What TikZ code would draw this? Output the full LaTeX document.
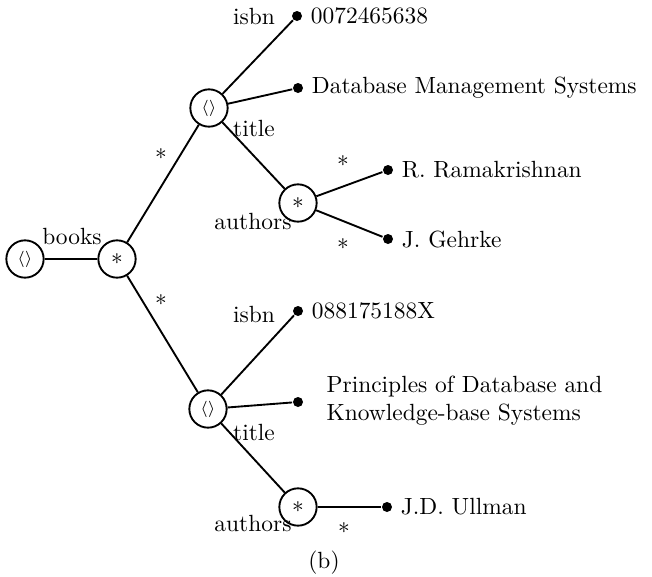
\documentclass[tikz,border=0pt]{standalone}
\begin{document}
\begin{tikzpicture}[thick, x=0.015cm, y=-0.015cm,
		tup/.style={circle,draw,minimum size=0.56cm,inner sep=0pt,font=\scriptsize},
		coll/.style={circle,draw,minimum size=0.56cm,inner sep=0pt},
		leaf/.style={circle,fill=black,minimum size=0.15cm,inner sep=0pt},
		val/.style={anchor=west,inner sep=2pt},
		lbl/.style={inner sep=0pt}
		]
	\useasboundingbox (0,0) rectangle (652,577);
	% inner nodes
	\node [tup] (root) at (25,259) {$\langle\rangle$};
	\node [coll] (books) at (117,259) {$*$};
	\node [tup] (b1) at (209,108) {$\langle\rangle$};
	\node [tup] (b2) at (208,409) {$\langle\rangle$};
	\node [coll] (a1) at (298,203) {$*$};
	\node [coll] (a2) at (298,507) {$*$};
	% leaves
	\node [leaf] (i1) at (297,16) {};
	\node [leaf] (t1) at (298,88) {};
	\node [leaf] (r1) at (388,170) {};
	\node [leaf] (g1) at (388,239) {};
	\node [leaf] (i2) at (298,311) {};
	\node [leaf] (t2) at (298,402) {};
	\node [leaf] (u2) at (387,507) {};
	% values
	\node [val] (vi1) at ([xshift=1pt]i1.east) {0072465638};
	\node [val] (vt1) at ([xshift=1pt]t1.east) {Database Management Systems};
	\node [val] (vr1) at ([xshift=1pt]r1.east) {R. Ramakrishnan};
	\node [val] (vg1) at ([xshift=1pt]g1.east) {J. Gehrke};
	\node [val] (vi2) at ([xshift=1pt]i2.east) {088175188X};
	\node [val,align=left] (vt2) at (321,401) {Principles of Database and\\Knowledge-base Systems};
	\node [val] (vu2) at ([xshift=1pt]u2.east) {J.D. Ullman};
	% edges
	\draw (root) -- (books);
	\draw (books) -- (b1);
	\draw (books) -- (b2);
	\draw (b1) -- (i1);
	\draw (b1) -- (t1);
	\draw (b1) -- (a1);
	\draw (a1) -- (r1);
	\draw (a1) -- (g1);
	\draw (b2) -- (i2);
	\draw (b2) -- (t2);
	\draw (b2) -- (a2);
	\draw (a2) -- (u2);
	% edge labels
	\node [lbl] (lbooks) at (72,236) {books};
	\node [lbl] (ls1) at (161,154) {$*$};
	\node [lbl] (ls2) at (161,300) {$*$};
	\node [lbl] (li1) at (254,16) {isbn};
	\node [lbl] (lt1) at (254,128) {title};
	\node [lbl] (la1) at (253,221) {authors};
	\node [lbl] (lr1) at (343,161) {$*$};
	\node [lbl] (lg1) at (343,244) {$*$};
	\node [lbl] (li2) at (254,314) {isbn};
	\node [lbl] (lt2) at (254,432) {title};
	\node [lbl] (la2) at (253,523) {authors};
	\node [lbl] (lu2) at (344,528) {$*$};
	\node [lbl] (cap) at (324,563) {(b)};
\end{tikzpicture}
\end{document}
